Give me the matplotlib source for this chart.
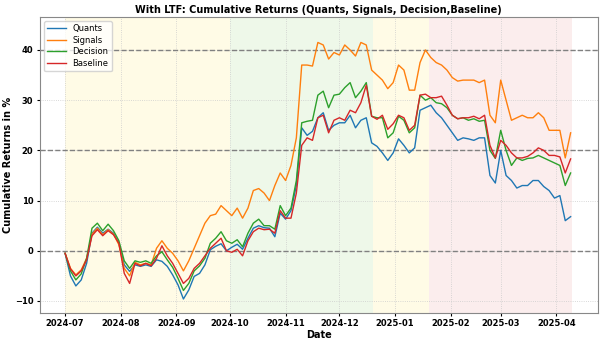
import numpy as np
import pandas as pd
import matplotlib
matplotlib.use("Agg")
import matplotlib.pyplot as plt
import matplotlib.dates as mdates

# sampled every 3 days from 2024-07-01 to 2025-04-09
dates = pd.date_range("2024-07-01", periods=95, freq="3D")

quants = [-0.5, -5.0, -7.0, -5.8, -2.5, 3.5, 4.7, 3.5, 4.3, 3.5, 1.5, -2.8, -4.1, -2.8, -3.1, -2.8,
          -3.1, -1.8, -2.1, -3.1, -4.8, -6.8, -9.6, -7.8, -5.1, -4.5, -2.8, 0.2, 0.9, 1.4, 0.0, 0.7,
          1.3, 0.3, 2.5, 4.5, 5.0, 4.6, 4.5, 2.8, 7.5, 6.3, 8.0, 13.0, 24.5, 23.0, 23.8, 26.5,
          27.5, 24.0, 25.0, 25.5, 25.5, 27.0, 24.5, 26.0, 26.5, 21.5, 20.8, 19.5, 18.0, 19.5, 22.3,
          21.0, 19.5, 20.5, 28.0, 28.5, 29.0, 27.5, 26.5, 25.0, 23.5, 22.0, 22.5, 22.3, 22.0, 22.5,
          22.5, 15.0, 13.5, 20.0, 15.0, 14.0, 12.5, 13.0, 13.0, 14.0, 14.0, 12.8, 12.0, 10.5, 11.0,
          6.0, 6.8]
signals = [-0.5, -3.5, -4.8, -3.8, -1.5, 3.3, 4.5, 3.2, 4.2, 3.3, 1.2, -3.5, -5.0, -2.3, -2.8, -2.5,
           -2.8, 0.5, 2.0, 0.5, -0.5, -2.0, -4.0, -2.0, 0.5, 3.0, 5.5, 7.0, 7.3, 9.0, 8.0, 7.0,
           8.5, 6.5, 8.5, 12.0, 12.4, 11.5, 10.0, 13.0, 15.5, 14.0, 17.0, 22.5, 37.0, 37.0, 36.8, 41.5,
           41.0, 38.2, 39.5, 39.0, 41.0, 40.0, 38.8, 41.5, 41.0, 36.0, 35.0, 34.0, 32.3, 33.5, 37.0,
           36.0, 32.0, 32.0, 37.5, 40.0, 38.5, 37.5, 37.0, 36.0, 34.5, 33.8, 34.0, 34.0, 34.0, 33.5,
           34.0, 27.0, 25.5, 34.0, 30.0, 26.0, 26.5, 27.0, 26.5, 26.5, 27.5, 26.5, 24.0, 24.0, 24.0,
           18.5, 23.5]
decision = [-0.5, -4.0, -5.8, -4.6, -1.5, 4.5, 5.5, 4.0, 5.3, 4.0, 2.0, -2.0, -3.5, -2.0, -2.3, -2.0,
            -2.5, -1.0, -0.2, -1.8, -3.3, -5.5, -7.9, -6.5, -4.0, -3.0, -1.5, 1.5, 2.5, 3.8, 2.0, 1.5,
            2.2, 0.8, 3.5, 5.5, 6.3, 5.0, 5.0, 4.3, 9.0, 7.0, 8.5, 14.0, 25.5, 25.8, 26.0, 31.0,
            31.8, 28.5, 31.0, 31.2, 32.5, 33.5, 30.5, 31.8, 33.5, 26.8, 26.5, 26.5, 22.5, 23.5, 26.8,
            26.0, 23.5, 24.5, 31.0, 30.0, 30.5, 29.5, 29.3, 28.5, 27.0, 26.3, 26.5, 26.0, 26.3, 25.8,
            26.0, 20.0, 18.4, 24.0, 20.0, 17.0, 18.5, 18.0, 18.4, 18.5, 19.0, 18.5, 18.0, 17.5, 17.0,
            13.0, 15.5]
baseline = [-0.5, -3.6, -5.0, -4.0, -1.8, 3.0, 4.2, 3.0, 4.0, 3.2, 1.5, -4.5, -6.5, -2.5, -3.0, -2.5,
            -3.0, -1.5, 1.0, -1.0, -2.5, -4.5, -6.5, -5.5, -3.5, -2.5, -1.0, 0.5, 1.5, 2.5, 0.0, -0.3,
            0.3, -1.0, 2.0, 3.8, 4.5, 4.2, 4.3, 3.5, 8.0, 6.5, 6.5, 11.5, 21.0, 22.5, 22.0, 26.5,
            27.0, 23.5, 26.0, 26.5, 26.0, 28.0, 27.5, 29.5, 33.0, 26.8, 26.2, 27.0, 24.2, 25.3, 27.0,
            26.5, 24.0, 25.0, 31.0, 31.2, 30.5, 30.5, 30.8, 29.0, 27.0, 26.3, 26.5, 26.5, 26.8, 26.3,
            27.0, 21.0, 18.5, 22.0, 21.0, 19.5, 18.5, 18.5, 18.8, 19.5, 20.5, 20.0, 19.0, 19.0, 18.7,
            15.5, 18.3]

# market regime periods
regimes = [("2024-07-01", "2024-10-01", "#fffbe0"),
           ("2024-10-01", "2024-12-20", "#eaf7e4"),
           ("2024-12-20", "2025-01-20", "#fffbe0"),
           ("2025-01-20", "2025-04-10", "#fbe9e9")]

fig, ax = plt.subplots(figsize=(6.02, 3.44), dpi=100)
fig.subplots_adjust(left=0.066, right=0.993, top=0.951, bottom=0.09)

for start, end, col in regimes:
    ax.axvspan(pd.Timestamp(start), pd.Timestamp(end), color=col, alpha=0.8, lw=0, zorder=0)

for y in [0, 20, 40]:
    ax.axhline(y, color="grey", linestyle="--", linewidth=1.0, zorder=1)

ax.plot(dates, quants, color="tab:blue", lw=1.0, label="Quants", zorder=3)
ax.plot(dates, signals, color="tab:orange", lw=1.0, label="Signals", zorder=3)
ax.plot(dates, decision, color="tab:green", lw=1.0, label="Decision", zorder=3)
ax.plot(dates, baseline, color="tab:red", lw=1.0, label="Baseline", zorder=3)

ax.set_ylim(-12.4, 46.6)
ax.grid(True, linestyle=":", color="#cccccc", linewidth=0.6)
ax.set_axisbelow(True)
ax.xaxis.set_major_locator(mdates.MonthLocator())
ax.xaxis.set_major_formatter(mdates.DateFormatter("%Y-%m"))
ax.set_yticks([-10, 0, 10, 20, 30, 40])

for lbl in ax.get_xticklabels() + ax.get_yticklabels():
    lbl.set_fontweight("bold")
    lbl.set_fontsize(6)
ax.tick_params(length=2.5, pad=2)
for sp in ax.spines.values():
    sp.set_color("#888888")

ax.set_title("With LTF: Cumulative Returns (Quants, Signals, Decision,Baseline)",
             fontsize=7, fontweight="bold", pad=3)
ax.set_xlabel("Date", fontsize=7, fontweight="bold", labelpad=1)
ax.set_ylabel("Cumulative Returns in %", fontsize=7, fontweight="bold", labelpad=1)
ax.legend(loc="upper left", fontsize=6, handlelength=2.2, borderpad=0.4, labelspacing=0.3)

fig.savefig("out.png", dpi=100)
